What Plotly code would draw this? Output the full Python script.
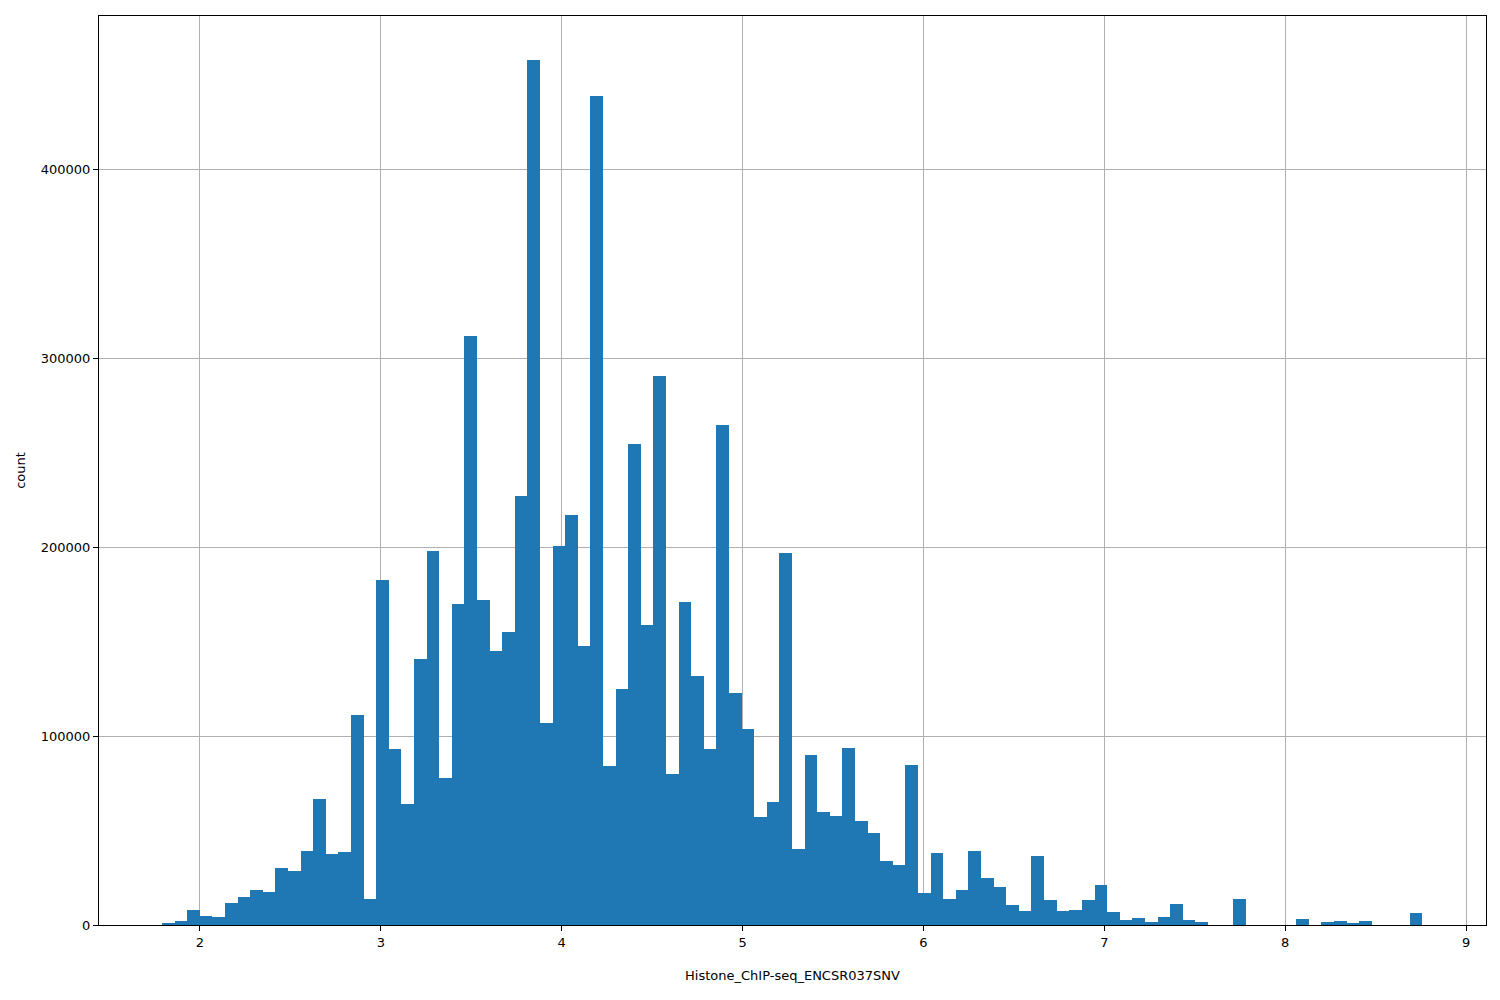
import numpy as np
import plotly.graph_objects as go

# histogram of Histone_ChIP-seq_ENCSR037SNV, 100 bins
bin_start = 1.790
bin_end = 8.757
counts_k = [
    1, 2, 8, 5, 4.5, 11.5, 15, 18.5, 17.5, 30,
    28.5, 39, 67, 37.5, 38.5, 111.5, 14, 183, 93, 64,
    141, 198, 78, 170, 312, 172, 145, 155, 227, 458,
    107, 201, 217, 148, 439, 84, 125, 255, 159, 291,
    80, 171, 132, 93, 265, 123, 104, 57, 65, 197,
    40, 90, 60, 58, 94, 55, 49, 34, 32, 85,
    17, 38, 14, 18.5, 39, 25, 20, 10.5, 7.5, 36.5,
    13, 7.5, 8, 13, 21, 7, 2.5, 3.5, 1.5, 4,
    11, 2.5, 1.5, 0, 0, 14, 0, 0, 0, 0,
    3, 0, 1.5, 2, 1, 2, 0, 0, 0, 6.5,
]

n_bins = len(counts_k)
edges = np.linspace(bin_start, bin_end, n_bins + 1)
centers = (edges[:-1] + edges[1:]) / 2
bin_w = edges[1] - edges[0]
counts = np.array(counts_k) * 1000

fig = go.Figure(go.Bar(
    x=centers, y=counts, width=bin_w,
    marker=dict(color="#1f77b4", line=dict(width=0)),
))

axis_common = dict(
    showline=True, linecolor="black", linewidth=1, mirror=True,
    ticks="outside", ticklen=5, tickcolor="black",
    showgrid=True, gridcolor="#b0b0b0", gridwidth=1, zeroline=False,
    tickfont=dict(size=13, color="black"),
)
fig.update_xaxes(
    range=[1.442, 9.11], tickvals=list(range(2, 10)),
    title=dict(text="Histone_ChIP-seq_ENCSR037SNV", font=dict(size=13, color="black"), standoff=22),
    **axis_common,
)
fig.update_yaxes(
    range=[0, 481500], tickvals=[0, 100000, 200000, 300000, 400000],
    tickformat="d",
    title=dict(text="count", font=dict(size=13, color="black"), standoff=12),
    **axis_common,
)
fig.update_layout(
    width=1500, height=1000,
    margin=dict(l=91, r=22, t=8, b=83),
    plot_bgcolor="white", paper_bgcolor="white",
    font=dict(family="DejaVu Sans"),
    bargap=0, showlegend=False,
)
fig.write_html("out.html")
